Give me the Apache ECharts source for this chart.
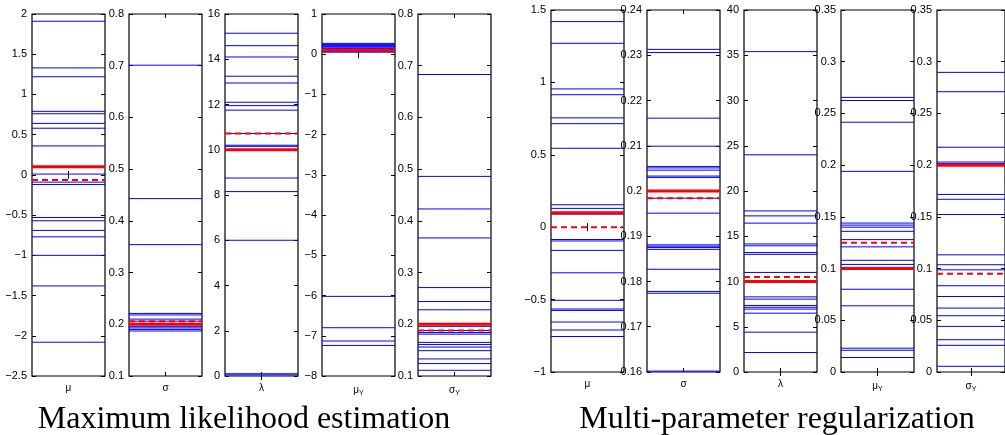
<!DOCTYPE html>
<html>
<head>
<meta charset="utf-8">
<script src="https://cdn.jsdelivr.net/npm/echarts@6/dist/echarts.min.js"></script>
<style>
  html, body {margin: 0; padding: 0; background: #fff;}
  #chart {width: 1005px; height: 435px;}
</style>
</head>
<body>
<div id="chart"></div>
<script>
// parameter names (rich text keys for the Y subscript)
const paramLabels = ['{m|μ}', '{m|σ}', '{m|λ}', '{m|μ}{s|Y}', '{m|σ}{s|Y}']

// y axis ranges per parameter [min, max, interval]
const mleAxisMin = [-2.5, 0.1, 0, -8, 0.1]
const mleAxisMax = [2, 0.8, 16, 1, 0.8]
const mleAxisStep = [0.5, 0.1, 2, 1, 0.1]
const mprAxisMin = [-1, 0.16, 0, 0, 0]
const mprAxisMax = [1.5, 0.24, 40, 0.35, 0.35]
const mprAxisStep = [0.5, 0.01, 5, 0.05, 0.05]

// true values (red solid) and average estimates (red dashed)
const trueValues = [0.1, 0.2, 10, 0.1, 0.2]
const mleMeans = [-0.065, 0.206, 10.72, 0.12, 0.188]
const mprMeans = [0, 0.1984, 10.5, 0.125, 0.095]

// individual estimates, maximum likelihood
const mleMu = [1.91, 1.33, 1.22, 0.79, 0.76, 0.64, 0.58, 0.36, 0.01, -0.09, -0.12, -0.53, -0.57, -0.69, -0.77, -1.0, -1.38, -2.08]
const mleSigma = [0.701, 0.443, 0.354, 0.221, 0.218, 0.210, 0.206, 0.196, 0.193, 0.190, 0.187]
const mleLambda = [15.15, 14.6, 14.1, 13.25, 12.95, 12.1, 11.95, 11.75, 10.72, 10.2, 10.15, 8.75, 8.15, 6.0, 0.1, 0.05]
const mleMuY = [0.27, 0.24, 0.22, 0.19, 0.16, 0.14, 0.07, 0.05, -6.02, -6.8, -7.13, -7.24]
const mleSigmaY = [0.683, 0.486, 0.423, 0.367, 0.271, 0.244, 0.228, 0.196, 0.188, 0.184, 0.181, 0.165, 0.161, 0.156, 0.149, 0.133, 0.124, 0.111]

// individual estimates, multi-parameter regularization
const mprMu = [1.42, 1.27, 0.955, 0.915, 0.755, 0.715, 0.545, 0.155, 0.13, 0.09, -0.085, -0.095, -0.16, -0.315, -0.505, -0.565, -0.575, -0.655, -0.71, -0.755]
const mprSigma = [0.2313, 0.2306, 0.2161, 0.2099, 0.2054, 0.2051, 0.2046, 0.2033, 0.2030, 0.1984, 0.1951, 0.1881, 0.1878, 0.1875, 0.1871, 0.1827, 0.1778, 0.1774, 0.1602]
const mprLambda = [35.4, 24.0, 17.8, 17.25, 16.45, 14.15, 13.95, 13.2, 13.0, 11.0, 8.3, 8.05, 7.35, 7.15, 6.95, 6.5, 4.4, 2.15]
const mprMuY = [0.2655, 0.2625, 0.2415, 0.194, 0.144, 0.142, 0.14, 0.136, 0.128, 0.121, 0.108, 0.104, 0.08, 0.064, 0.023, 0.021, 0.014]
const mprSigmaY = [0.2897, 0.271, 0.2173, 0.203, 0.2015, 0.1717, 0.167, 0.1523, 0.1133, 0.1037, 0.0988, 0.0834, 0.073, 0.0618, 0.0544, 0.0441, 0.0312, 0.0258, 0.0055]

const groupTitles = ['Maximum likelihood estimation', 'Multi-parameter regularization']

const groups = [
  {runs: [mleMu, mleSigma, mleLambda, mleMuY, mleSigmaY], means: mleMeans,
    min: mleAxisMin, max: mleAxisMax, step: mleAxisStep,
    lefts: [32, 129, 225, 322, 418], top: 14, titleX: 244},
  {runs: [mprMu, mprSigma, mprLambda, mprMuY, mprSigmaY], means: mprMeans,
    min: mprAxisMin, max: mprAxisMax, step: mprAxisStep,
    lefts: [551, 647, 744, 841, 937], top: 10, titleX: 777}
]

const tickFont = 'Liberation Sans'
const fmtTick = (v) => String(+v.toFixed(4)).replace('-', '\u2212')

// one horizontal line across the whole panel for each value
const hLine = (color, width, dash) => (params, api) => {
  const cs = params.coordSys
  const y = api.coord([0, api.value(1)])[1]
  return {
    type: 'line',
    shape: {x1: cs.x, y1: y, x2: cs.x + cs.width, y2: y},
    style: {stroke: color, lineWidth: width, lineDash: dash || null}
  }
}

const grid = [], xAxis = [], yAxis = [], series = []
const graphic = []

groups.forEach((g, gi) => {
  g.runs.forEach((runs, i) => {
    const idx = grid.length
    grid.push({
      left: g.lefts[i], top: g.top, width: 73, height: 362,
      show: true, borderColor: '#000', borderWidth: 1.2, backgroundColor: '#fff'
    })
    const tick = {show: true, inside: true, alignWithLabel: true, length: 4, lineStyle: {color: '#000', width: 1}}
    xAxis.push({
      gridIndex: idx, type: 'category', data: [paramLabels[i]], position: 'bottom',
      axisLine: {show: false}, axisTick: tick, splitLine: {show: false},
      axisLabel: {
        margin: 7, color: '#000',
        rich: {
          m: {fontFamily: tickFont, fontSize: 10, color: '#000'},
          s: {fontFamily: tickFont, fontSize: 7, color: '#000', padding: [7, 0, 0, 0]}
        }
      }
    })
    xAxis.push({
      gridIndex: idx, type: 'category', data: [paramLabels[i]], position: 'top',
      axisLine: {show: false}, axisTick: tick, axisLabel: {show: false}, splitLine: {show: false}
    })
    const yBase = {
      gridIndex: idx, type: 'value', min: g.min[i], max: g.max[i], interval: g.step[i],
      axisLine: {show: false}, splitLine: {show: false},
      axisTick: {show: true, inside: true, length: 4, lineStyle: {color: '#000', width: 1}}
    }
    yAxis.push(Object.assign({}, yBase, {
      position: 'left',
      axisLabel: {color: '#000', fontFamily: tickFont, fontSize: 11, margin: 5, formatter: fmtTick}
    }))
    yAxis.push(Object.assign({}, yBase, {position: 'right', axisLabel: {show: false}}))

    const xi = idx * 2, yi = idx * 2
    const common = {type: 'custom', xAxisIndex: xi, yAxisIndex: yi, silent: true, animation: false, clip: true}
    series.push(Object.assign({}, common, {
      z: 2, renderItem: hLine('#0000ff', 1),
      data: runs.map(v => [0, v])
    }))
    series.push(Object.assign({}, common, {
      z: 3, renderItem: hLine('#ff0000', 3),
      data: [[0, trueValues[i]]]
    }))
    series.push(Object.assign({}, common, {
      z: 4, renderItem: hLine('#ff0000', 2, [6, 4]),
      data: [[0, g.means[i]]]
    }))
  })
  graphic.push({
    type: 'text', x: g.titleX, y: 420,
    style: {text: groupTitles[gi], fontFamily: 'Liberation Serif', fontSize: 32, fill: '#000', align: 'center', verticalAlign: 'middle'}
  })
})

const chart = echarts.init(document.getElementById('chart'))
chart.setOption({
  backgroundColor: '#fff',
  animation: false,
  grid, xAxis, yAxis, series, graphic
})
</script>
</body>
</html>
